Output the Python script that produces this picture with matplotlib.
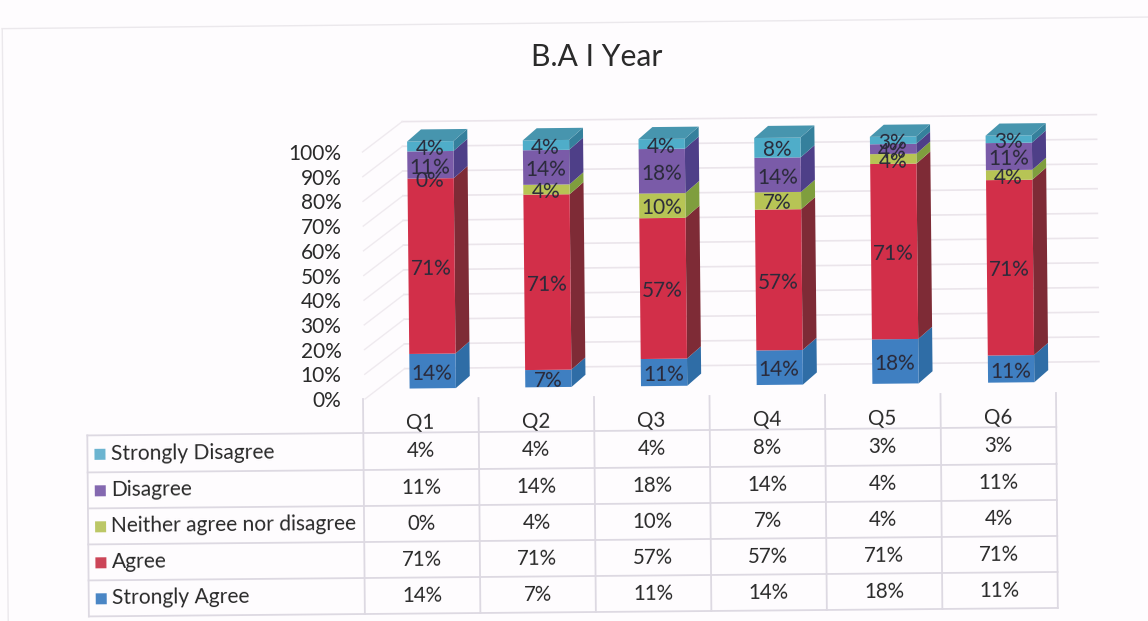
import matplotlib
matplotlib.use("Agg")
import matplotlib.pyplot as plt
from matplotlib.patches import Polygon, Rectangle
from matplotlib.transforms import Affine2D

plt.rcParams['font.family'] = ['Lato', 'DejaVu Sans']

title = "B.A I Year"
questions = ["Q1", "Q2", "Q3", "Q4", "Q5", "Q6"]
strongly_agree = [14, 7, 11, 14, 18, 11]
agree = [71, 71, 57, 57, 71, 71]
neither = [0, 4, 10, 7, 4, 4]
disagree = [11, 14, 18, 14, 4, 11]
strongly_disagree = [4, 4, 4, 8, 3, 3]
series_names = ["Strongly Agree", "Agree", "Neither agree nor disagree",
                "Disagree", "Strongly Disagree"]
series_values = [strongly_agree, agree, neither, disagree, strongly_disagree]
front_colors = ["#3F7FC1", "#D22F49", "#B7C455", "#7A5BA8", "#4FADC9"]
side_colors = ["#2F6DA6", "#7E2B36", "#7F9E3E", "#4E3F88", "#35809C"]
top_color = "#4795AE"
swatch_colors = ["#4A86C5", "#CC4558", "#BCC766", "#8468B0", "#6CB4D0"]
y_ticks = [0, 10, 20, 30, 40, 50, 60, 70, 80, 90, 100]

W, H = 1148, 621
fig = plt.figure(figsize=(W / 100, H / 100), dpi=100, facecolor="#FEFCFE")

# chart plane in pixels: left 365, 0% at y=399, 100% at y=152, 115.7 px per category
X0, Y0, CAT, FULL = 365, H - 399, 115.7, 247
ax = fig.add_axes([X0 / W, Y0 / H, 6 * CAT / W, FULL / H])
ax.patch.set_visible(False)
for s in ax.spines.values():
    s.set_visible(False)
ax.set_xlim(0, 6)
ax.set_ylim(0, 100)

ANGLE = 0.58
TABLE_ANGLE = 0.5
rot = Affine2D().rotate_deg_around(X0, Y0, ANGLE)
def shifted(dx, dy):
    return ax.transData + Affine2D().translate(dx, dy) + rot
px = Affine2D().scale(1, -1).translate(0, H) + rot
px_table = Affine2D().scale(1, -1).translate(0, H) + Affine2D().rotate_deg_around(X0, Y0, TABLE_ANGLE)

# walls and grid
GRID = "#EBE5EB"
wall = shifted(40, 30)
for t in y_ticks:
    ax.plot([0, 6], [t, t], color=GRID, lw=1.2, transform=wall, clip_on=False, zorder=1)
    ax.plot([X0, X0 + 40], [H - (Y0 + FULL * t / 100), H - (Y0 + FULL * t / 100 + 30)],
            color="#EFEAEF", lw=1.0, transform=px, clip_on=False, zorder=1)

# bars
BAR_W = 0.40
DDX, DDY = 14 / CAT, 12 / (FULL / 100)
front = shifted(10, 10)
label_tf = shifted(10, 7.5)
for i, q in enumerate(questions):
    xc = i + 0.5
    xl, xr = xc - BAR_W / 2, xc + BAR_W / 2
    base = 0
    for k, vals in enumerate(series_values):
        v = vals[i]
        ax.add_patch(Polygon([(xr, base), (xr + DDX, base + DDY), (xr + DDX, base + v + DDY), (xr, base + v)],
                             closed=True, facecolor=side_colors[k], edgecolor="none",
                             transform=front, clip_on=False, zorder=3))
        ax.bar(xc, v, BAR_W, bottom=base, color=front_colors[k], linewidth=0,
               transform=front, clip_on=False, zorder=4)
        base += v
    ax.add_patch(Polygon([(xl, base), (xl + DDX, base + DDY), (xr + DDX, base + DDY), (xr, base)],
                         closed=True, facecolor=top_color, edgecolor="none",
                         transform=front, clip_on=False, zorder=4))
    base = 0
    for k, vals in enumerate(series_values):
        v = vals[i]
        ax.text(xc - 0.005, base + v / 2, f"{v}%", ha="center", va="center", fontsize=15,
                color="#2A2A3A", transform=label_tf, zorder=6, clip_on=False,
                rotation=ANGLE, rotation_mode="anchor")
        base += v

ax.set_xticks([])
ax.set_yticks(y_ticks)
ax.set_yticklabels([f"{t}%" for t in y_ticks], fontsize=15, color="#2A2A2A")
ax.tick_params(axis="y", length=0, pad=17)

# data table
LINE = "#DDD9E2"
TL, TM, COL = 87, 363, 115.5
row_lines = [433, 470, 506, 542, 578, 614]
header_y = 423
n = len(questions)
TR = TM + n * COL
for y in row_lines:
    ax.plot([TL, TR], [y, y], color=LINE, lw=1.3, transform=px_table, clip_on=False, zorder=2)
ax.plot([TL, TL], [row_lines[0], row_lines[-1]], color=LINE, lw=1.3, transform=px_table, clip_on=False, zorder=2)
for c in range(n + 1):
    x = TM + c * COL
    ax.plot([x, x], [399, row_lines[-1]], color=LINE, lw=1.3, transform=px_table, clip_on=False, zorder=2)

for i, q in enumerate(questions):
    cx = TM + (i + 0.5) * COL - 0.5
    ax.text(cx, header_y, q, ha="center", va="center", fontsize=14.8, color="#2A2A2A",
            transform=px_table, clip_on=False, rotation=TABLE_ANGLE, rotation_mode="anchor")
    for r, k in enumerate(range(len(series_names) - 1, -1, -1)):
        yc = (row_lines[r] + row_lines[r + 1]) / 2
        ax.text(cx, yc, f"{series_values[k][i]}%", ha="center", va="center", fontsize=14.8,
                color="#2A2A2A", transform=px_table, clip_on=False, rotation=TABLE_ANGLE,
                rotation_mode="anchor")

for r, k in enumerate(range(len(series_names) - 1, -1, -1)):
    yc = (row_lines[r] + row_lines[r + 1]) / 2
    ax.add_patch(Rectangle((94, yc - 5), 11, 11, facecolor=swatch_colors[k], edgecolor="none",
                           transform=px_table, clip_on=False, zorder=3))
    ax.text(110, yc, series_names[k], ha="left", va="center", fontsize=15.1, color="#2A2A2A",
            transform=px_table, clip_on=False, rotation=TABLE_ANGLE, rotation_mode="anchor")

ax.set_xlim(0, 6)
ax.set_ylim(0, 100)

# page frame and title
ax.plot([6, 6], [25, H], color="#EBE8EC", lw=1.0, transform=px, clip_on=False, zorder=1)
ax.plot([6, W + 10], [25, 25], color="#EBE8EC", lw=1.0, transform=px, clip_on=False, zorder=1)
fig.text(597 / W, 1 - 57 / H, title, ha="center", va="center", fontsize=21.7, color="#2A2A2A")

fig.savefig("out.png", dpi=100, facecolor=fig.get_facecolor())
